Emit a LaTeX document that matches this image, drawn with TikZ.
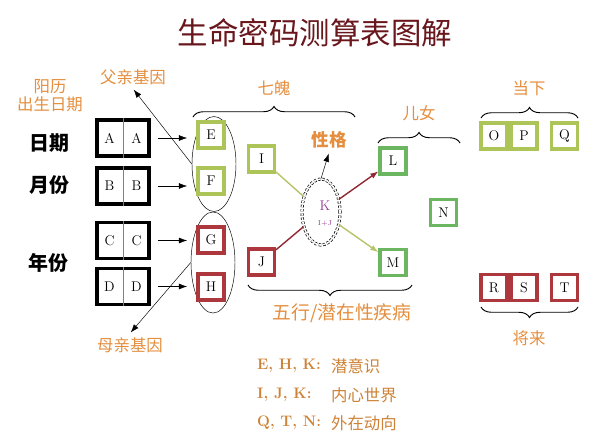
\documentclass[tikz,border=0pt]{standalone}
\usepackage{fontspec}
\newfontfamily\cjk{Noto Sans CJK SC}
\usetikzlibrary{arrows.meta,decorations.pathreplacing,shapes.geometric}

\definecolor{titlered}{RGB}{105,22,28}
\definecolor{lblorange}{RGB}{228,142,62}
\definecolor{legbrown}{RGB}{205,130,55}
\definecolor{olivebox}{RGB}{172,196,88}
\definecolor{leafbox}{RGB}{108,182,98}
\definecolor{redbox}{RGB}{172,55,60}
\definecolor{oliveline}{RGB}{185,195,105}
\definecolor{redline}{RGB}{145,40,50}
\definecolor{kpurple}{RGB}{150,60,150}

\tikzset{
  lbl/.style={font=\cjk\fontsize{14}{17}\selectfont, text=lblorange},
  rowlbl/.style={font=\cjk\bfseries\fontsize{17}{20}\selectfont},
  datebox/.style={draw, line width=2.6pt, minimum width=1.56cm, minimum height=1.08cm, inner sep=0pt},
  letter/.style={font=\fontsize{12}{14}\selectfont},
  gbox/.style={draw=olivebox, line width=2.6pt, fill=white, minimum size=0.78cm, inner sep=0pt, font=\fontsize{12}{14}\selectfont},
  lbox/.style={gbox, draw=leafbox},
  rbox/.style={gbox, draw=redbox},
  leg/.style={anchor=west, text=legbrown, font=\bfseries\fontsize{13}{15}\selectfont},
  arr/.style={-{Latex[length=7pt,width=5pt]}},
  brc/.style={decorate, decoration={brace, amplitude=9pt}, line width=0.8pt},
}

\begin{document}
\begin{tikzpicture}[x=0.03cm, y=-0.03cm]
   \useasboundingbox (0,0) rectangle (598,443);

   \node[font=\cjk\fontsize{26}{30}\selectfont, text=titlered] (title) at (315,33) {生命密码测算表图解};

   \node[lbl, align=center, font=\cjk\fontsize{14}{15.5}\selectfont] (solar) at (50,96) {阳历\\出生日期};
   \node[lbl] (father) at (133,77) {父亲基因};
   \node[lbl] (mother) at (130,345) {母亲基因};

   \node[rowlbl] (day) at (49,143) {日期};
   \node[rowlbl] (month) at (49,185) {月份};
   \node[rowlbl] (year) at (48,263) {年份};

   % birth date boxes
   \node[datebox] (dA) at (123,138) {};
   \draw[gray, thin] (dA.north) -- (dA.south);
   \node[letter] (aL) at (109.5,138) {A};
   \node[letter] (aR) at (136.5,138) {A};
   \node[datebox] (dB) at (123,186) {};
   \draw[gray, thin] (dB.north) -- (dB.south);
   \node[letter] (bL) at (109.5,186) {B};
   \node[letter] (bR) at (136.5,186) {B};
   \node[datebox] (dC) at (123,240.5) {};
   \draw[gray, thin] (dC.north) -- (dC.south);
   \node[letter] (cL) at (109.5,240.5) {C};
   \node[letter] (cR) at (136.5,240.5) {C};
   \node[datebox] (dD) at (123,286.5) {};
   \draw[gray, thin] (dD.north) -- (dD.south);
   \node[letter] (dL) at (109.5,286.5) {D};
   \node[letter] (dR) at (136.5,286.5) {D};

   % seven souls
   \node[draw, ellipse, thin, minimum width=1.32cm, minimum height=2.85cm, inner sep=0pt] (ellE) at (214,164) {};
   \node[draw, ellipse, thin, minimum width=1.32cm, minimum height=3.03cm, inner sep=0pt] (ellG) at (213,262.5) {};
   \node[gbox] (bE) at (211,135) {E};
   \node[gbox] (bF) at (211,181) {F};
   \node[rbox] (bG) at (211,240) {G};
   \node[rbox] (bH) at (211,287) {H};

   \draw[arr, shorten <=6pt, shorten >=8pt] (dA.east) -- (dA.east -| bE.west);
   \draw[arr, shorten <=6pt, shorten >=8pt] (dB.east) -- (dB.east -| bF.west);
   \draw[arr, shorten <=6pt, shorten >=8pt] (dC.east) -- (dC.east -| bG.west);
   \draw[arr, shorten <=6pt, shorten >=8pt] (dD.east) -- (dD.east -| bH.west);
   \draw[arr, shorten >=1pt] (ellE.west) -- (father.south);
   \draw[arr, shorten >=1pt] (ellG.west) -- (mother.north);

   \node[gbox] (bI) at (261.5,159) {I};
   \node[rbox] (bJ) at (261.5,262) {J};

   % character circle
   \node[draw, ellipse, dashed, dash pattern=on 2pt off 1.6pt, line width=0.6pt, double, double distance=1.4pt, minimum width=1.14cm, minimum height=1.98cm, inner sep=0pt] (ellK) at (321,212) {};
   \node[text=kpurple, font=\fontsize{12}{14}\selectfont] (kK) at (325,206) {K};
   \node[text=kpurple, font=\fontsize{6}{7}\selectfont] (kIJ) at (325,224) {I+J};
   \node[lbl, font=\cjk\bfseries\fontsize{15}{17}\selectfont] (trait) at (329,140) {性格};
   \draw[arr, shorten >=1pt] (ellK.north) -- (trait.south);

   \node[lbox] (bL) at (393,161) {L};
   \node[lbox] (bM) at (393,262.5) {M};
   \node[lbox] (bN) at (443.5,212.5) {N};

   \draw[oliveline, line width=1.2pt] (bI) -- (ellK);
   \draw[redline, line width=1.2pt] (bJ) -- (ellK);
   \draw[arr, redline, line width=1.2pt] (ellK) -- (bL);
   \draw[arr, oliveline, line width=1.2pt] (ellK) -- (bM);

   \node[gbox] (bO) at (494,136) {O};
   \node[gbox] (bP) at (524,136) {P};
   \node[gbox] (bQ) at (564.5,136) {Q};
   \node[rbox] (bR) at (494,287.5) {R};
   \node[rbox] (bS) at (524,287.5) {S};
   \node[rbox] (bT) at (564.5,287.5) {T};

   % braces and their labels
   \draw[brc] (193,117) -- (355,117);
   \node[lbl] (souls) at (274,88) {七魄};
   \draw[brc] (378,143) -- (460,143);
   \node[lbl] (kids) at (419,113) {儿女};
   \draw[brc] (481,118) -- (578,118);
   \node[lbl] (now) at (529,88) {当下};
   \draw[brc] (578,307) -- (481,307);
   \node[lbl] (future) at (529,338) {将来};
   \draw[brc] (412,285) -- (248,285);
   \node[lbl, font=\cjk\fontsize{16}{18}\selectfont] (wuxing) at (342,313) {五行/潜在性疾病};

   % legend
   \node[leg] (lg1) at (253,366) {E, H, K:};
   \node[anchor=west, lbl, text=legbrown] (lt1) at (327,366) {潜意识};
   \node[leg] (lg2) at (253,395) {I, J, K:};
   \node[anchor=west, lbl, text=legbrown] (lt2) at (327,395) {内心世界};
   \node[leg] (lg3) at (253,423) {Q, T, N:};
   \node[anchor=west, lbl, text=legbrown] (lt3) at (327,423) {外在动向};
\end{tikzpicture}
\end{document}
